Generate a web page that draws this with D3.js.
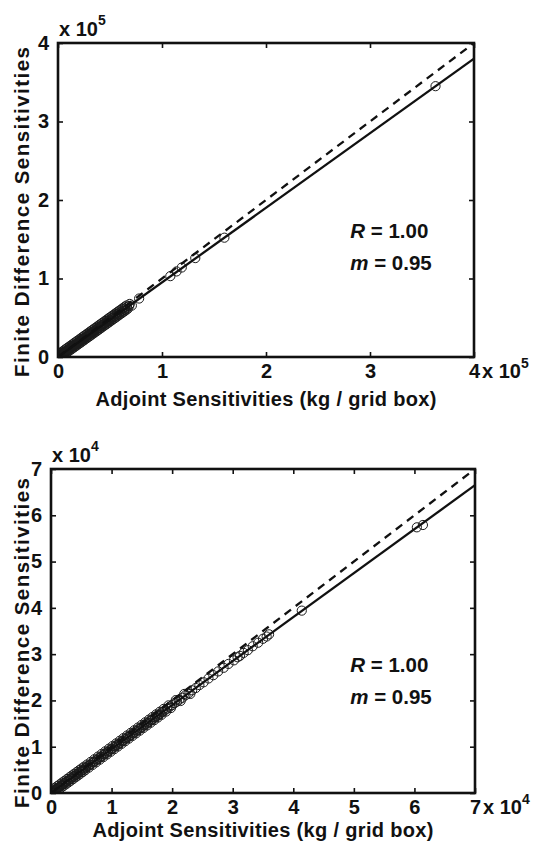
<!DOCTYPE html>
<html>
<head>
<meta charset="utf-8">
<script src="https://cdn.jsdelivr.net/npm/d3@7"></script>
<style>
  html, body { margin: 0; padding: 0; background: #fff; }
  svg { display: block; font-family: "Liberation Sans", Arial, Helvetica, sans-serif; font-weight: bold; }
</style>
</head>
<body>
<svg id="fig" width="536" height="841"></svg>
<script>
// ---- Upper panel: sensitivities in units of 10^5 kg / grid box ----
const topAdjoint = [
  0.002,0.004,0.005,0.007,0.009,0.011,0.013,0.016,0.018,0.021,0.024,0.026,0.029,0.031,0.034,0.037,0.040,0.043,0.046,0.049,
  0.052,0.055,0.058,0.061,0.064,0.067,0.071,0.074,0.078,0.081,0.085,0.088,0.092,0.095,0.099,0.103,0.107,0.111,0.115,0.119,
  0.124,0.128,0.133,0.137,0.142,0.147,0.152,0.157,0.163,0.168,0.174,0.180,0.186,0.192,0.199,0.205,0.212,0.219,0.226,0.234,
  0.241,0.249,0.257,0.265,0.274,0.283,0.292,0.301,0.311,0.321,0.331,0.342,0.353,0.364,0.376,0.388,0.400,0.413,0.426,0.440,
  0.454,0.468,0.483,0.498,0.514,0.530,0.547,0.564,0.582,0.600,0.620,0.640,0.662,0.685,
  0.004,0.012,0.020,0.028,0.036,0.044,0.052,0.060,0.068,0.076,0.084,0.092,0.100,0.108,0.116,0.124,0.132,0.140,0.148,0.156,
  0.164,0.172,0.180,0.188,0.196,0.204,0.212,0.220,0.228,0.236,0.244,0.252,0.260,0.268,0.276,0.284,0.292,0.300,0.308,0.316,
  0.324,0.332,0.340,0.348,0.356,0.364,0.372,0.380,0.388,0.396,0.404,0.412,0.420,0.428,0.436,0.444,0.452,0.460,0.468,0.476,
  0.484,0.492,0.500,0.508,0.516,0.524,0.532,0.540,0.548,0.556,0.564,0.572,0.580,0.588,0.596,0.604,0.612,0.620,0.628,0.636,
  0.644,0.652,0.660,0.670,0.690,0.710,
  0.78,1.08,1.14,1.19,1.32,1.60,3.63];
const topFiniteDiff = [
  0.002,0.004,0.005,0.006,0.009,0.010,0.013,0.015,0.017,0.020,0.023,0.025,0.027,0.030,0.032,0.036,0.038,0.041,0.044,0.046,
  0.050,0.052,0.056,0.058,0.061,0.064,0.067,0.071,0.074,0.077,0.081,0.083,0.088,0.090,0.094,0.098,0.102,0.105,0.110,0.113,
  0.118,0.121,0.127,0.130,0.135,0.140,0.144,0.150,0.155,0.159,0.166,0.171,0.176,0.183,0.189,0.194,0.202,0.208,0.214,0.223,
  0.229,0.236,0.245,0.251,0.261,0.268,0.278,0.286,0.295,0.305,0.315,0.324,0.336,0.345,0.358,0.368,0.381,0.392,0.405,0.417,
  0.432,0.444,0.459,0.472,0.489,0.503,0.520,0.535,0.554,0.569,0.590,0.607,0.630,0.650,
  0.034,0.000,0.049,0.003,0.064,0.018,0.079,0.033,0.095,0.048,0.110,0.063,0.125,0.079,0.140,0.094,0.155,0.109,0.171,0.124,
  0.186,0.139,0.201,0.155,0.216,0.170,0.231,0.185,0.247,0.200,0.262,0.215,0.277,0.231,0.292,0.246,0.307,0.261,0.323,0.276,
  0.338,0.291,0.353,0.307,0.368,0.322,0.383,0.337,0.399,0.352,0.414,0.367,0.429,0.383,0.444,0.398,0.459,0.413,0.475,0.428,
  0.490,0.443,0.505,0.459,0.520,0.474,0.535,0.489,0.551,0.504,0.566,0.519,0.581,0.535,0.596,0.550,0.611,0.565,0.627,0.580,
  0.642,0.595,0.657,0.613,0.676,0.655,
  0.745,1.03,1.09,1.14,1.26,1.52,3.45];
const topTicks = [0, 1, 2, 3, 4];
const topExponent = "5";
const topR = "1.00";
const topSlope = "0.95";

// ---- Lower panel: sensitivities in units of 10^4 kg / grid box ----
const bottomAdjoint = [
  0.005,0.01,0.015,0.02,0.03,0.04,0.05,0.06,0.07,0.08,0.09,0.10,0.115,0.13,0.145,0.16,0.175,0.19,0.21,0.23,
  0.25,0.27,0.29,0.31,0.33,0.355,0.38,0.405,0.43,0.455,0.48,0.505,0.53,0.555,0.58,0.61,0.64,0.67,0.70,0.73,
  0.76,0.79,0.82,0.85,0.88,0.91,0.94,0.97,1.00,1.03,1.06,1.09,1.12,1.15,1.18,1.21,1.24,1.27,1.30,1.33,
  1.36,1.39,1.42,1.45,1.48,1.51,1.54,1.57,1.60,1.63,1.66,1.69,1.72,1.75,1.78,1.81,1.84,1.88,1.92,1.96,
  2.00,2.04,2.08,2.12,2.17,2.22,2.27,2.33,2.39,2.45,2.52,2.60,2.68,2.76,2.85,2.93,3.02,3.08,3.12,3.18,
  3.25,3.33,3.42,3.50,3.56,3.60,4.14,6.04,6.14,
  0.025,0.045,0.065,0.085,0.105,0.125,0.145,0.165,0.185,0.205,0.225,0.245,0.265,0.285,0.305,0.325,0.345,0.365,0.385,0.405,
  0.425,0.445,0.465,0.485,0.505,0.525,0.545,0.565,0.595,0.625,0.655,0.685,0.715,0.745,0.775,0.805,0.835,0.865,0.895,0.925,
  0.955,0.985,1.015,1.045,1.075,1.105,1.135,1.165,1.195,1.225,1.255,1.285,1.315,1.345,1.375,1.405,1.435,1.465,1.495,1.525,
  1.555,1.585,1.615,1.645,1.675,1.705,1.735,1.765,1.795,1.825,1.860,1.900,1.940,1.980,2.060,2.140,2.200,2.300];
const bottomFiniteDiff = [
  0.005,0.009,0.014,0.019,0.029,0.038,0.047,0.058,0.066,0.077,0.085,0.096,0.109,0.124,0.137,0.153,0.166,0.181,0.199,0.219,
  0.237,0.258,0.275,0.295,0.313,0.338,0.360,0.386,0.408,0.433,0.455,0.481,0.502,0.528,0.550,0.581,0.607,0.638,0.664,0.695,
  0.721,0.752,0.778,0.809,0.835,0.866,0.892,0.923,0.948,0.981,1.005,1.038,1.062,1.095,1.119,1.152,1.176,1.209,1.233,1.266,
  1.290,1.323,1.347,1.380,1.404,1.437,1.461,1.494,1.518,1.551,1.575,1.608,1.632,1.665,1.689,1.722,1.746,1.788,1.822,1.865,
  1.898,1.942,1.975,2.018,2.058,2.113,2.154,2.218,2.268,2.332,2.392,2.474,2.545,2.627,2.705,2.789,2.866,2.932,2.963,3.027,
  3.086,3.170,3.247,3.332,3.381,3.428,3.94,5.74,5.79,
  0.074,0.000,0.112,0.036,0.150,0.074,0.188,0.112,0.226,0.150,0.264,0.188,0.302,0.226,0.340,0.264,0.378,0.302,0.416,0.340,
  0.454,0.378,0.492,0.416,0.530,0.454,0.568,0.492,0.615,0.549,0.672,0.606,0.729,0.663,0.786,0.720,0.843,0.777,0.900,0.834,
  0.957,0.891,1.014,0.948,1.071,1.005,1.128,1.062,1.185,1.119,1.242,1.176,1.299,1.233,1.356,1.290,1.413,1.347,1.470,1.404,
  1.527,1.461,1.584,1.518,1.641,1.575,1.698,1.632,1.755,1.689,1.817,1.760,1.893,1.836,2.007,1.988,2.140,2.140];
const bottomTicks = [0, 1, 2, 3, 4, 5, 6, 7];
const bottomExponent = "4";
const bottomR = "1.00";
const bottomSlope = "0.95";

const xLabelText = "Adjoint Sensitivities (kg / grid box)";
const yLabelText = "Finite Difference Sensitivities";

const svg = d3.select("#fig");

function drawPanel(cfg) {
  const { box, adjoint, finite, ticks, exponent, R, slope, id } = cfg;
  const maxV = ticks[ticks.length - 1];
  const x = d3.scaleLinear().domain([0, maxV]).range([box.left, box.right]);
  const y = d3.scaleLinear().domain([0, maxV]).range([box.bottom, box.top]);

  const g = svg.append("g");

  g.append("clipPath").attr("id", id).append("rect")
    .attr("x", box.left).attr("y", box.top)
    .attr("width", box.right - box.left).attr("height", box.bottom - box.top);

  const plot = g.append("g").attr("clip-path", `url(#${id})`);

  // scatter of the sensitivity pairs
  plot.selectAll("circle").data(adjoint).join("circle")
    .attr("cx", d => x(d))
    .attr("cy", (d, i) => y(finite[i]))
    .attr("r", 4.6)
    .attr("fill", "none")
    .attr("stroke", "#1a1a1a")
    .attr("stroke-width", 1);

  // 1:1 reference line
  plot.append("line")
    .attr("x1", x(0)).attr("y1", y(0)).attr("x2", x(maxV)).attr("y2", y(maxV))
    .attr("stroke", "#111").attr("stroke-width", 2.3)
    .attr("stroke-dasharray", "8,6");

  // least-squares fit, slope m
  const m = +slope;
  plot.append("line")
    .attr("x1", x(0)).attr("y1", y(0)).attr("x2", x(maxV)).attr("y2", y(m * maxV))
    .attr("stroke", "#111").attr("stroke-width", 2.3);

  // axes with inward ticks on all four sides
  const tickLen = -5;
  const ax = (axis, tr) => g.append("g").attr("transform", tr).call(axis)
    .call(s => s.select(".domain").remove())
    .call(s => s.selectAll("line").attr("stroke", "#111").attr("stroke-width", 1.6));

  const bx = ax(d3.axisBottom(x).tickValues(ticks).tickSize(tickLen).tickPadding(7).tickFormat(d3.format("d")),
                `translate(0,${box.bottom})`);
  const ly = ax(d3.axisLeft(y).tickValues(ticks).tickSize(tickLen).tickPadding(9).tickFormat(d3.format("d")),
                `translate(${box.left},0)`);
  ax(d3.axisTop(x).tickValues(ticks).tickSize(tickLen).tickFormat(""), `translate(0,${box.top})`);
  ax(d3.axisRight(y).tickValues(ticks).tickSize(tickLen).tickFormat(""), `translate(${box.right},0)`);

  [bx, ly].forEach(s => s.selectAll("text")
    .attr("fill", "#111")
    .style("font-family", '"Liberation Sans", Arial, sans-serif')
    .style("font-weight", "bold")
    .style("font-size", "20px"));

  g.append("rect")
    .attr("x", box.left).attr("y", box.top)
    .attr("width", box.right - box.left).attr("height", box.bottom - box.top)
    .attr("fill", "none").attr("stroke", "#111").attr("stroke-width", 2.6);

  // scale factors
  const xe = g.append("text").attr("x", box.right + 8).attr("y", box.bottom + 21.2)
    .attr("fill", "#111").style("font-size", "20px");
  xe.append("tspan").text("x 10");
  xe.append("tspan").attr("dy", -10).style("font-size", "14px").text(exponent);

  const ye = g.append("text").attr("x", box.left + 1).attr("y", box.top - 7)
    .attr("fill", "#111").style("font-size", "20px");
  ye.append("tspan").text("x 10");
  ye.append("tspan").attr("dy", -11).style("font-size", "14px").text(exponent);

  // statistics
  const sr = g.append("text").attr("x", x(cfg.statX)).attr("y", y(cfg.statY))
    .attr("fill", "#111").style("font-size", "20.5px");
  sr.append("tspan").style("font-style", "italic").text("R");
  sr.append("tspan").text(" = " + R);
  const sm = g.append("text").attr("x", x(cfg.statX)).attr("y", y(cfg.statY) + 32)
    .attr("fill", "#111").style("font-size", "20.5px");
  sm.append("tspan").style("font-style", "italic").text("m");
  sm.append("tspan").text(" = " + slope);

  // axis titles
  g.append("text")
    .attr("x", (box.left + box.right) / 2).attr("y", cfg.xLabelY)
    .attr("text-anchor", "middle").attr("fill", "#111")
    .attr("textLength", 341).attr("lengthAdjust", "spacing")
    .style("font-size", "20px").text(xLabelText);

  g.append("text")
    .attr("transform", `translate(${cfg.yLabelX},${cfg.yLabelY}) rotate(-90)`)
    .attr("text-anchor", "middle").attr("fill", "#111")
    .attr("textLength", 330).attr("lengthAdjust", "spacing")
    .style("font-size", "20.5px").text(yLabelText);
}

drawPanel({
  id: "clipTop",
  box: { left: 58, right: 474, top: 43, bottom: 357 },
  adjoint: topAdjoint, finite: topFiniteDiff, ticks: topTicks,
  exponent: topExponent, R: topR, slope: topSlope,
  statX: 2.81, statY: 1.52,
  xLabelY: 406, yLabelX: 29, yLabelY: 212
});

drawPanel({
  id: "clipBottom",
  box: { left: 51, right: 475, top: 469, bottom: 793 },
  adjoint: bottomAdjoint, finite: bottomFiniteDiff, ticks: bottomTicks,
  exponent: bottomExponent, R: bottomR, slope: bottomSlope,
  statX: 4.94, statY: 2.61,
  xLabelY: 837, yLabelX: 29, yLabelY: 643
});
</script>
</body>
</html>
